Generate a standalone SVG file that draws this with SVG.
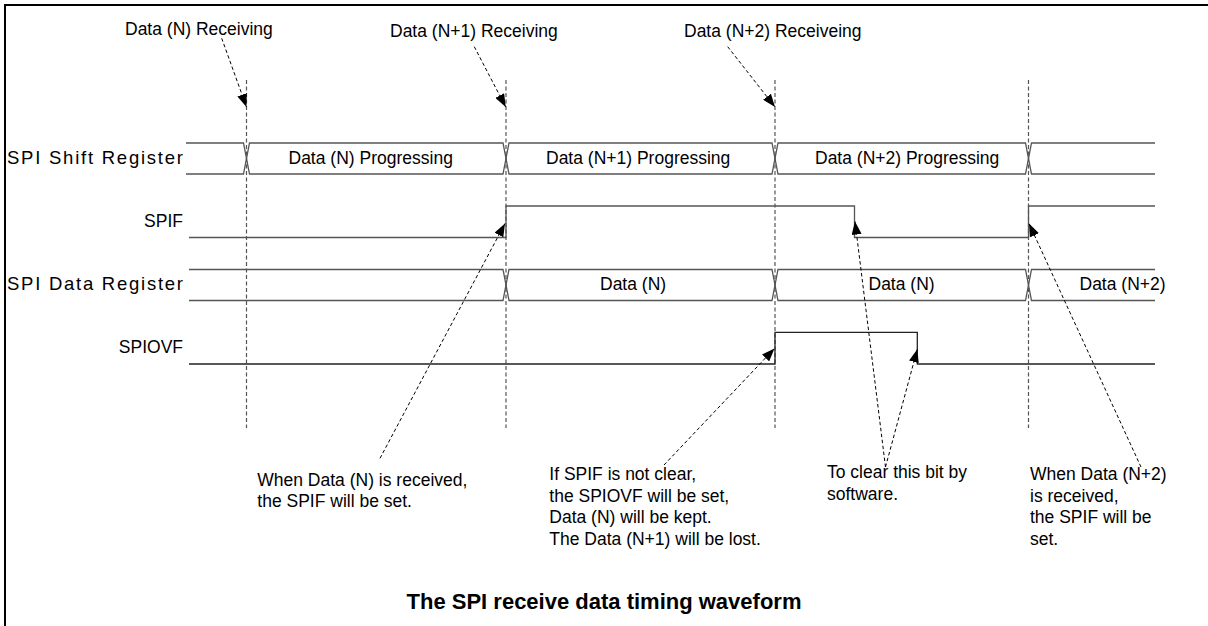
<svg xmlns="http://www.w3.org/2000/svg" width="1208" height="626" viewBox="0 0 1208 626">
<style>
  text { font-family: "Liberation Sans", Arial, sans-serif; font-size: 17.5px; fill: #000; }
  .lbl { text-anchor: end; }
  .reg { font-size: 18.5px; }
  .title { font-size: 22px; font-weight: bold; text-anchor: middle; }
  .wave { fill: none; stroke: #555; stroke-width: 1.3; }
  .wave2 { fill: none; stroke: #222; stroke-width: 1.3; }
  .guide { fill: none; stroke: #555; stroke-width: 1.2; stroke-dasharray: 4 2.5; }
  .conn { fill: none; stroke: #000; stroke-width: 1; stroke-dasharray: 3.5 2.5; marker-end: url(#ah); }
  .frame { fill: none; stroke: #000; stroke-width: 2; }
</style>
<defs>
  <marker id="ah" markerUnits="userSpaceOnUse" markerWidth="13" markerHeight="10" refX="13" refY="5" orient="auto">
    <path d="M0,0 L13,5 L0,10 Z" fill="#000"/>
  </marker>
</defs>
<rect width="1208" height="626" fill="#fff"/>
<path class="frame" d="M5,627 V5 H1209"/>

<g id="guides">
  <line class="guide" x1="246.5" y1="80" x2="246.5" y2="428"/>
  <line class="guide" x1="506" y1="80" x2="506" y2="428"/>
  <line class="guide" x1="775" y1="80" x2="775" y2="428"/>
  <line class="guide" x1="1028.5" y1="80" x2="1028.5" y2="428"/>
</g>

<g id="shift-register">
  <text class="reg" x="7" y="164" textLength="176" lengthAdjust="spacing">SPI Shift Register</text>
  <path class="wave" d="M186,143 H243.5 L249.5,174 H503 L509,143 H772 L778,174 H1025.5 L1031.5,143 H1155"/>
  <path class="wave" d="M186,174 H243.5 L249.5,143 H503 L509,174 H772 L778,143 H1025.5 L1031.5,174 H1155"/>
  <text x="288.5" y="164">Data (N) Progressing</text>
  <text x="546" y="164">Data (N+1) Progressing</text>
  <text x="815" y="164">Data (N+2) Progressing</text>
</g>

<g id="spif">
  <text class="lbl" x="183" y="226.5">SPIF</text>
  <path class="wave" d="M189,237.5 H506 V206 H854.5 V237.5 H1028.5 V206 H1155"/>
</g>

<g id="data-register">
  <text class="reg" x="7" y="290" textLength="176" lengthAdjust="spacing">SPI Data Register</text>
  <path class="wave" d="M189,269.5 H503 L509,300.5 H772 L778,269.5 H1025.5 L1031.5,300.5 H1155"/>
  <path class="wave" d="M189,300.5 H503 L509,269.5 H772 L778,300.5 H1025.5 L1031.5,269.5 H1155"/>
  <text x="600" y="289.5">Data (N)</text>
  <text x="868.5" y="289.5">Data (N)</text>
  <text x="1079.5" y="289.5">Data (N+2)</text>
</g>

<g id="spiovf">
  <text class="lbl" x="183" y="352.7">SPIOVF</text>
  <path class="wave2" d="M189,364 H775 V332.3 H917.3 V364 H1155"/>
</g>

<g id="top-labels">
  <text x="125" y="34.5">Data (N) Receiving</text>
  <text x="390" y="37">Data (N+1) Receiving</text>
  <text x="684" y="37">Data (N+2) Receiveing</text>
</g>

<g id="notes">
  <text x="257.3" y="485.5">When Data (N) is received,</text>
  <text x="257.3" y="506.5">the SPIF will be set.</text>
  <text x="549.3" y="480">If SPIF is not clear,</text>
  <text x="549.3" y="501.5">the SPIOVF will be set,</text>
  <text x="549.3" y="523">Data (N) will be kept.</text>
  <text x="549.3" y="544.5">The Data (N+1) will be lost.</text>
  <text x="827" y="478">To clear this bit by</text>
  <text x="827" y="499.5">software.</text>
  <text x="1030" y="480">When Data (N+2)</text>
  <text x="1030" y="501.5">is received,</text>
  <text x="1030" y="523">the SPIF will be</text>
  <text x="1030" y="544.5">set.</text>
</g>

<g id="connectors">
  <line class="conn" x1="221.7" y1="38.3" x2="246.5" y2="107"/>
  <line class="conn" x1="474.3" y1="46.7" x2="505.7" y2="107"/>
  <line class="conn" x1="727.7" y1="46.7" x2="775" y2="107"/>
  <line class="conn" x1="380" y1="458.3" x2="505" y2="223.5"/>
  <line class="conn" x1="664" y1="465" x2="774.5" y2="348.5"/>
  <line class="conn" x1="885.5" y1="467" x2="855" y2="221.5"/>
  <line class="conn" x1="885.5" y1="467" x2="917.3" y2="349.3"/>
  <line class="conn" x1="1141" y1="467" x2="1029" y2="223.5"/>
</g>

<text class="title" x="604" y="609">The SPI receive data timing waveform</text>
</svg>
